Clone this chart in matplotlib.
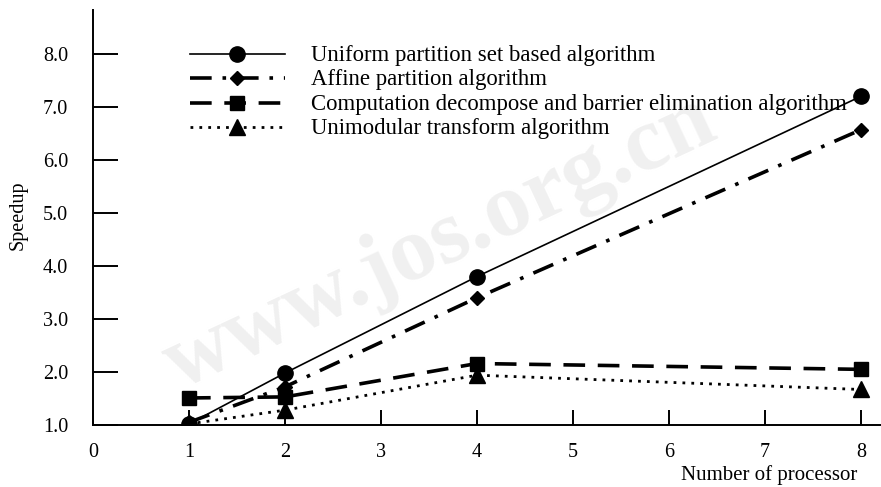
import matplotlib
matplotlib.use("Agg")
import matplotlib.pyplot as plt

processors = [1, 2, 4, 8]
uniform = [1.02, 1.98, 3.80, 7.20]
affine = [1.05, 1.72, 3.40, 6.57]
computation = [1.51, 1.53, 2.16, 2.05]
unimodular = [1.02, 1.28, 1.94, 1.67]

labels = ["Uniform partition set based algorithm",
          "Affine partition algorithm",
          "Computation decompose and barrier elimination algorithm",
          "Unimodular transform algorithm"]
xticks = [0, 1, 2, 3, 4, 5, 6, 7, 8]
yticks = [1, 2, 3, 4, 5, 6, 7, 8]

plt.rcParams['font.family'] = ['Liberation Serif', 'DejaVu Serif']

W, H = 881, 487
fig = plt.figure(figsize=(W / 100, H / 100), dpi=100)
ax = fig.add_axes([93 / W, 1 - 425 / H, 1 - 93 / W, (425 - 10) / H])
ax.patch.set_alpha(0)

# faint watermark
fig.text(0.5, 0.5, "www.jos.org.cn", fontsize=66, fontweight='bold',
         color='#f0f0f0', rotation=25, ha='center', va='center', zorder=-1)

ax.plot(processors, uniform, color='black', lw=1.2, ls='-',
        marker='o', ms=11, label=labels[0])
ax.plot(processors, affine, color='black', lw=2.6, ls=(0, (6, 3, 1, 3)),
        marker='D', ms=7.5, label=labels[1])
ax.plot(processors, computation, color='black', lw=2.6, ls=(0, (6, 3.5)),
        marker='s', ms=10, label=labels[2])
ax.plot(processors, unimodular, color='black', lw=2.0, ls=(0, (1, 2.2)),
        marker='^', ms=11, label=labels[3])

ax.set_xlim(0, 8.21)
ax.set_ylim(1.0, 8.83)
ax.set_xticks(xticks)
ax.set_xticklabels([str(v) for v in xticks])
ax.set_yticks(yticks)
ax.set_yticklabels([f"{v:.1f}" for v in yticks])

for s in ['top', 'right']:
    ax.spines[s].set_visible(False)
for s in ['left', 'bottom']:
    ax.spines[s].set_linewidth(1.4)

ax.tick_params(axis='y', direction='in', length=18, width=1.4, pad=18,
               labelsize=14.5)
ax.tick_params(axis='x', direction='in', length=11, width=1.4, pad=13,
               labelsize=14.5)

fig.text(18 / W, 1 - 215 / H, "Speedup", fontsize=14.5, rotation=90,
         ha='center', va='center')
fig.text(857 / W, 1 - 475 / H, "Number of processor", fontsize=15,
         ha='right', va='center')

leg = ax.legend(loc='upper left', bbox_to_anchor=(190 / W, 1 - 45 / H),
                bbox_transform=fig.transFigure, frameon=False, fontsize=16.4,
                handlelength=4.15, handletextpad=1.15, labelspacing=0.15,
                handleheight=0.5, borderpad=0, borderaxespad=0, numpoints=1)

fig.savefig("out.png", dpi=100)
